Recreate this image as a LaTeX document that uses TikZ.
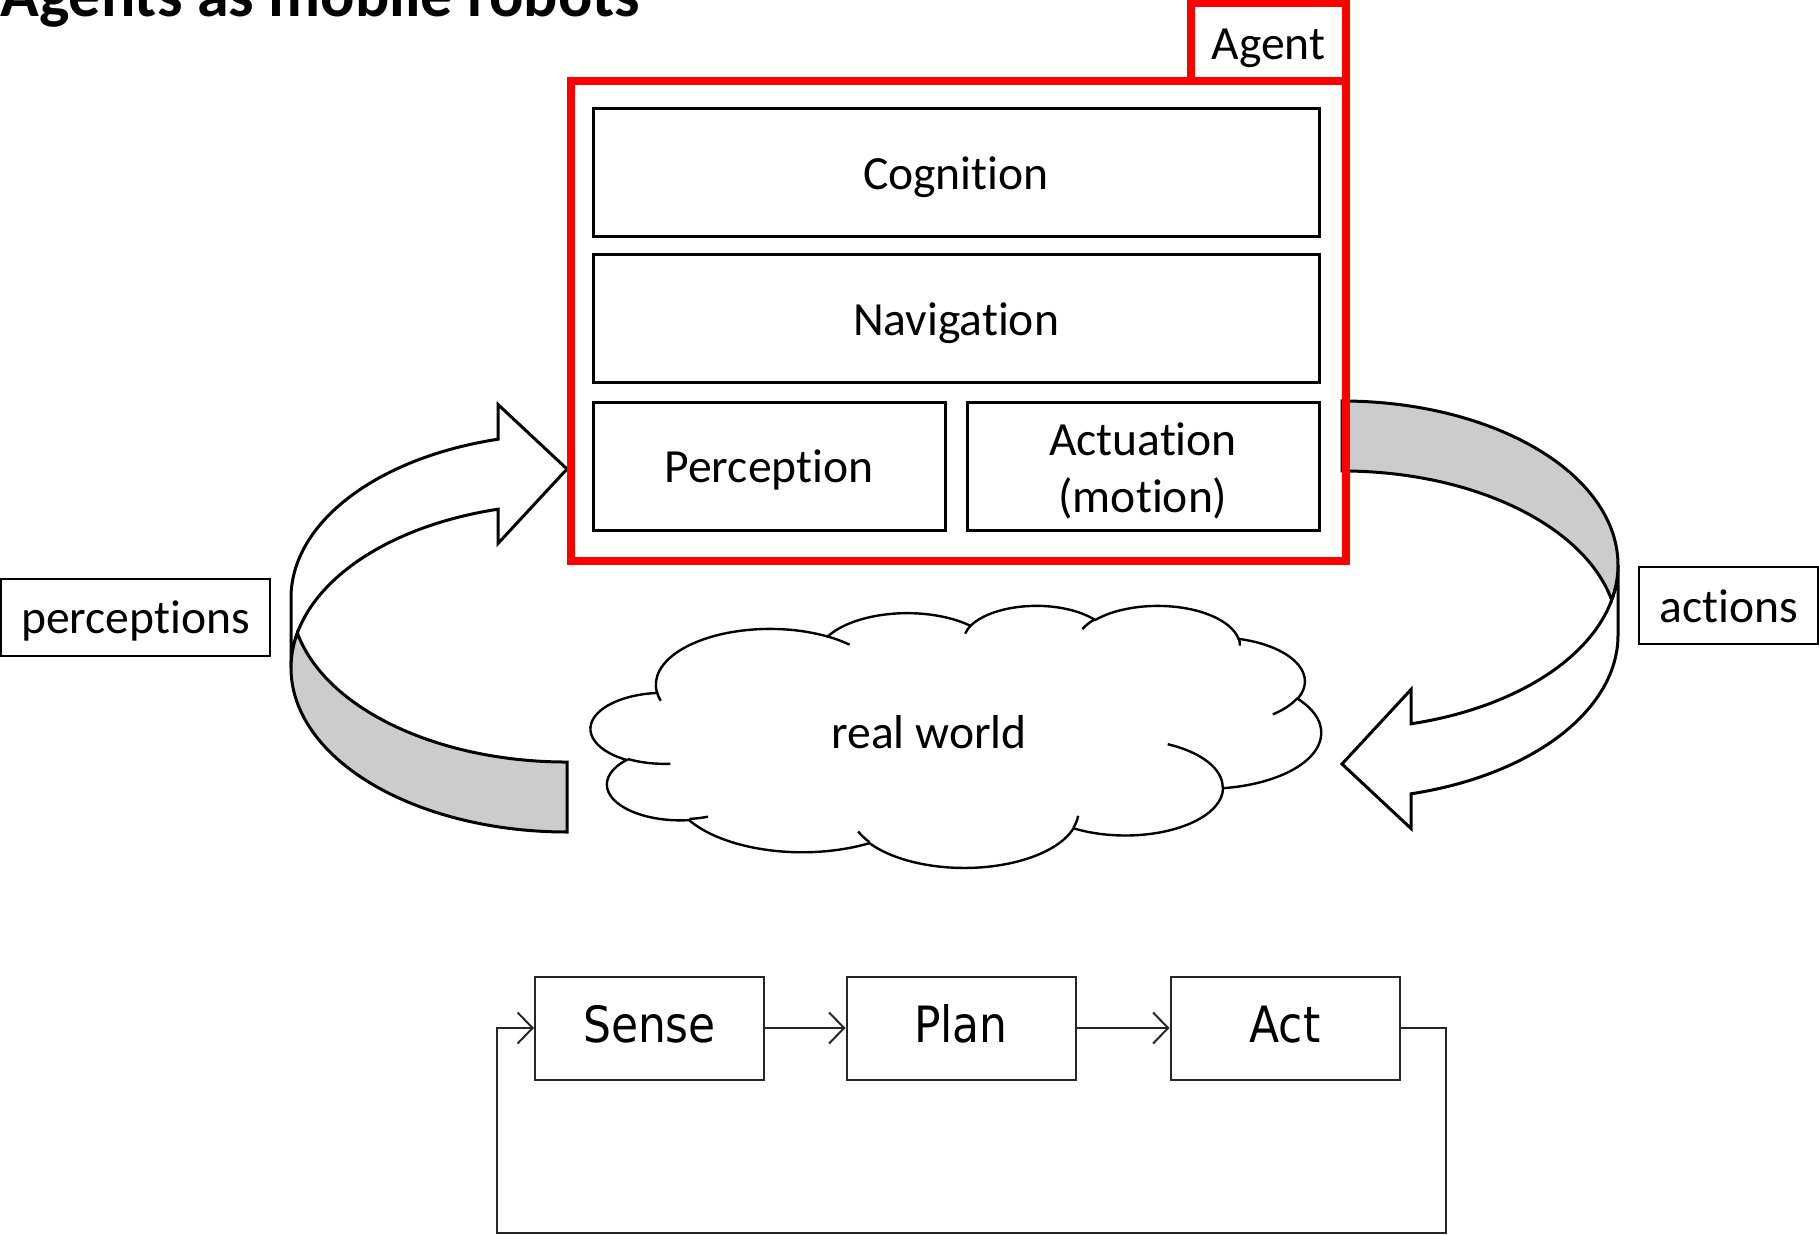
\documentclass[tikz,border=0pt]{standalone}
\usepackage{graphicx}
\usepackage{fontspec}
\setmainfont{Carlito}[Ligatures=NoCommon]
\newfontfamily\dejavu{DejaVu Sans}
\usetikzlibrary{arrows.meta}
\newcommand\narrow[1]{\scalebox{.88}[1]{#1}}
\tikzset{
  agentframe/.style={draw=red,line width=4pt,inner sep=0pt},
  capline/.style={text height=16.8pt,text depth=0pt},
  layerbox/.style={draw,line width=1.5pt,inner sep=0pt,minimum height=64pt,capline},
  tagbox/.style={draw,line width=1pt,inner sep=0pt,minimum height=38.5pt,capline},
  shaft/.style={draw,line width=1.5pt,fill=white},
  bandfill/.style={draw,line width=1.5pt,fill=black!20},
  stagebox/.style={draw=black!85,line width=1pt,minimum width=114.5pt,minimum height=51.5pt,
    text height=14.3pt,text depth=0pt,font=\dejavu\fontsize{25}{30}\selectfont},
  flowline/.style={draw=black!85,line width=1pt,-{Straight Barb[length=7.5pt,width=15.5pt]}},
  % elliptic arc given by visual angles: wR, hR, start, sweep
  puff/.code n args={4}{%
    \pgfmathsetmacro\puffA{atan2(#1*sin(#3),#2*cos(#3))}%
    \pgfmathsetmacro\puffB{atan2(#1*sin(#3+#4),#2*cos(#3+#4))}%
    \pgfmathsetmacro\puffD{(\puffB)-(\puffA)-360*round(((\puffB)-(\puffA)-(#4))/360)}%
    \edef\puffkeys{x radius=#1,y radius=#2,start angle=\puffA,delta angle=\puffD}%
    \expandafter\pgfkeysalso\expandafter{\puffkeys}},
  pics/bentarrow/.style={code={
    \draw[shaft] (-276,-35) arc[start angle=180,end angle=255.52,x radius=276,y radius=164]
      -- (-69,-228.5) -- (0,-164) -- (-69,-89.5) -- (-69,-123.8)
      arc[start angle=255.52,end angle=180,x radius=276,y radius=164] -- cycle;
    \draw[bandfill] (0,199) arc[start angle=90,end angle=192.32,x radius=276,y radius=164]
      arc[start angle=167.68,end angle=90,x radius=276,y radius=164] -- cycle;
  }}
}
\begin{document}
\begin{tikzpicture}[x=0.5pt,y=-0.5pt,font=\fontsize{23.8}{28.6}\selectfont]
  \useasboundingbox (0,0) rectangle (1819,1235);
  \node[anchor=base west,inner sep=0pt,font=\fontsize{32}{38}\selectfont\bfseries] (title) at (0,17) {Agents as mobile robots};
  % perception and action loops
  \pic at (567,633) {bentarrow};
  \pic[rotate=180] at (1342,600) {bentarrow};
  \node[tagbox,minimum width=134.5pt] (percepts) at (135.5,617) {perceptions};
  \node[tagbox,minimum width=89.5pt] (actions) at (1728.5,605.5) {actions};
  % agent
  \node[agentframe,minimum width=387.5pt,minimum height=239.75pt] (agentbox) at (958.5,320.75) {};
  \node[agentframe,capline,minimum width=77.5pt,minimum height=38.75pt] (agent) at (1268.5,42.25) {Agent};
  \node[layerbox,minimum width=363pt] (cog) at (956,172.5) {Cognition};
  \node[layerbox,minimum width=363pt] (nav) at (956,319) {Navigation};
  \node[layerbox,minimum width=176pt] (perc) at (769,466) {Perception};
  \node[layerbox,minimum width=176pt,align=center,text height=46.6pt] (actu) at (1143,466) {Actuation\\(motion)};
  % real world
  \begin{scope}[shift={(591,605)},x=8.449pt,y=-3.0324pt,line width=1.2pt]
    \draw[fill=white] (3.900,14.370)
      arc[puff={6.753}{9.190}{-190.4875}{123.7805}]
      arc[puff={5.333}{7.267}{-144.1024}{89.9452}]
      arc[puff={4.365}{5.945}{-145.8079}{99.7230}]
      arc[puff={4.857}{6.595}{-130.9861}{117.2417}]
      arc[puff={5.333}{7.273}{-78.7089}{109.0269}]
      arc[puff={6.775}{9.220}{-46.2673}{130.2690}]
      arc[puff={5.785}{7.867}{0.6250}{114.0333}]
      arc[puff={6.752}{9.215}{22.4516}{115.1726}]
      arc[puff={7.720}{10.543}{66.2426}{75.7110}]
      arc[puff={4.360}{5.918}{-274.9421}{146.7356}]
      arc[puff={4.345}{5.945}{-246.8285}{152.5189}] -- cycle;
    \draw (4.693,26.177) arc[puff={4.345}{5.945}{86.7420}{26.4295}]
      (6.928,34.899) arc[puff={4.360}{5.918}{73.6105}{11.4475}]
      (16.478,39.090) arc[puff={6.752}{9.215}{137.6242}{14.0811}]
      (28.827,34.751) arc[puff={6.752}{9.215}{6.4533}{15.9984}]
      (34.129,22.954) arc[puff={5.785}{7.867}{-70.2924}{70.9174}]
      (41.798,15.354) arc[puff={5.333}{7.273}{30.3180}{27.7515}]
      (38.324,5.426) arc[puff={4.857}{6.595}{-13.7443}{14.8589}]
      (29.078,3.952) arc[puff={4.857}{6.595}{-149.1815}{18.1954}]
      (22.141,4.720) arc[puff={4.365}{5.945}{-163.4943}{17.6864}]
      (14.000,5.192) arc[puff={6.753}{9.190}{-66.7070}{12.3194}]
      (4.127,15.789) arc[puff={6.753}{9.190}{157.6544}{11.8582}];
  \end{scope}
  \node[capline] (world) at (929,732) {real world};
  % sense-plan-act
  \node[stagebox] (sense) at (649.5,1028) {\narrow{Sense}};
  \node[stagebox] (plan) at (961,1028) {\narrow{Plan}};
  \node[stagebox] (act) at (1285,1028) {\narrow{Act}};
  \coordinate (loopR) at (1446,1233);
  \coordinate (loopL) at (497,1233);
  \draw[flowline] (sense) -- (plan);
  \draw[flowline] (plan) -- (act);
  \draw[flowline] (act) -| (loopR) -- (loopL) |- (sense);
\end{tikzpicture}
\end{document}
